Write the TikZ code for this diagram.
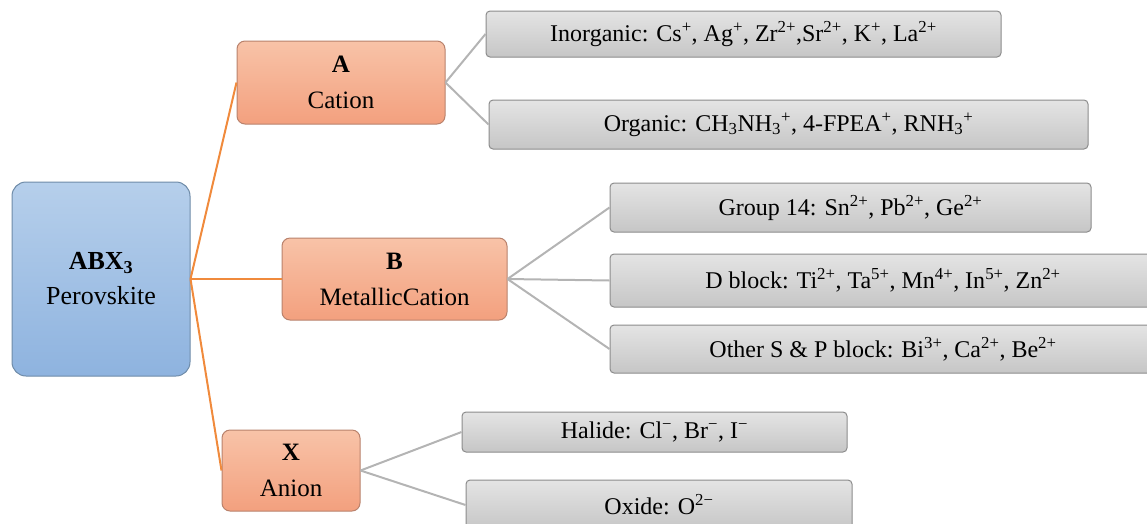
\documentclass[tikz,border=0pt]{standalone}
\usepackage{fontspec}
\setmainfont{Liberation Serif}
\newcommand{\spp}[1]{\textsuperscript{#1}}
\newcommand{\sbb}[1]{\textsubscript{#1}}
\definecolor{blueTop}{HTML}{B6CFEB}
\definecolor{blueBot}{HTML}{8EB3DF}
\definecolor{blueEdge}{HTML}{6E8BA8}
\definecolor{orTop}{HTML}{F8C3A8}
\definecolor{orBot}{HTML}{F3A07E}
\definecolor{orEdge}{HTML}{B9826C}
\definecolor{grTop}{HTML}{E4E4E4}
\definecolor{grBot}{HTML}{C6C6C6}
\definecolor{grEdge}{HTML}{8C8C8C}
\definecolor{orLine}{HTML}{F08A3C}
\definecolor{grLine}{HTML}{B4B4B4}
\tikzset{
  rootbox/.style={draw=blueEdge, line width=1pt, rounded corners=14pt, top color=blueTop, bottom color=blueBot, align=center, inner sep=0pt, font=\rmfamily\fontsize{26}{35}\selectfont},
  midbox/.style={draw=orEdge, line width=1pt, rounded corners=8pt, top color=orTop, bottom color=orBot, align=center, inner sep=0pt, font=\rmfamily\fontsize{25}{36}\selectfont},
  leafbox/.style={draw=grEdge, line width=1pt, rounded corners=4pt, top color=grTop, bottom color=grBot, align=center, inner sep=0pt, font=\rmfamily\fontsize{24}{28}\selectfont},
  orconn/.style={draw=orLine, line width=2pt},
  grconn/.style={draw=grLine, line width=2pt}
}
\begin{document}
\begin{tikzpicture}[x=1pt,y=-1pt]
\useasboundingbox (0,0) rectangle (1147,523);
% root
\node[rootbox, minimum width=178pt, minimum height=194pt] (root) at (101,279) {\textbf{ABX\sbb{3}}\\Perovskite};
% mid
\node[midbox, minimum width=208pt, minimum height=83pt] (A) at (341,82.5) {\textbf{A}\\Cation};
\node[midbox, minimum width=225pt, minimum height=82pt] (B) at (394.5,279) {\textbf{B}\\MetallicCation};
\node[midbox, minimum width=138pt, minimum height=81pt] (X) at (291,470.5) {\textbf{X}\\Anion};
% leaves
\node[leafbox, minimum width=515pt, minimum height=46pt] (inorg) at (743.5,34) {Inorganic: Cs\spp{+}, Ag\spp{+}, Zr\spp{2+},Sr\spp{2+}, K\spp{+}, La\spp{2+}};
\node[leafbox, minimum width=599pt, minimum height=49pt] (org) at (788.5,124.5) {Organic: CH\sbb{3}NH\sbb{3}\spp{+}, 4-FPEA\spp{+}, RNH\sbb{3}\spp{+}};
\node[leafbox, minimum width=481pt, minimum height=49pt] (g14) at (850.5,207.5) {Group 14: Sn\spp{2+}, Pb\spp{2+}, Ge\spp{2+}};
\node[leafbox, minimum width=546pt, minimum height=53pt] (dblk) at (883,280.5) {D block: Ti\spp{2+}, Ta\spp{5+}, Mn\spp{4+}, In\spp{5+}, Zn\spp{2+}};
\node[leafbox, minimum width=546pt, minimum height=48pt] (other) at (883,349) {Other S \& P block: Bi\spp{3+}, Ca\spp{2+}, Be\spp{2+}};
\node[leafbox, minimum width=385pt, minimum height=40pt] (hal) at (654.5,432) {Halide: Cl\spp{−}, Br\spp{−}, I\spp{−}};
\node[leafbox, minimum width=386pt, minimum height=50pt] (oxi) at (659,505) {Oxide: O\spp{2−}};
% connectors
\draw[orconn] (root.east) -- (A.west);
\draw[orconn] (root.east) -- (B.west);
\draw[orconn] (root.east) -- (X.west);
\draw[grconn] (A.east) -- (inorg.west);
\draw[grconn] (A.east) -- (org.west);
\draw[grconn] (B.east) -- (g14.west);
\draw[grconn] (B.east) -- (dblk.west);
\draw[grconn] (B.east) -- (other.west);
\draw[grconn] (X.east) -- (hal.west);
\draw[grconn] (X.east) -- (oxi.west);
\end{tikzpicture}
\end{document}
